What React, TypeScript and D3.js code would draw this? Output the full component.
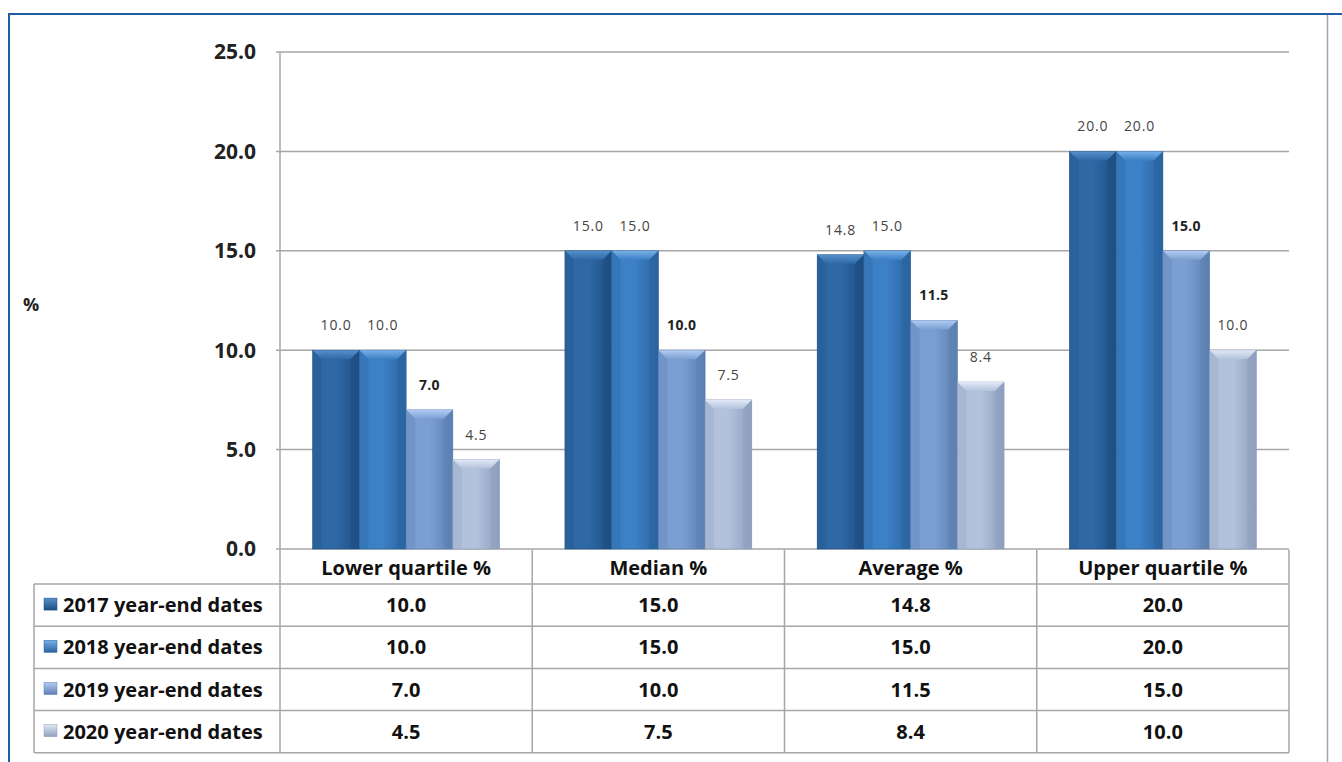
import React from 'react'
import * as d3 from 'd3'

const categories = ['Lower quartile %', 'Median %', 'Average %', 'Upper quartile %']
const seriesNames = ['2017 year-end dates', '2018 year-end dates', '2019 year-end dates', '2020 year-end dates']
const values2017 = [10.0, 15.0, 14.8, 20.0]
const values2018 = [10.0, 15.0, 15.0, 20.0]
const values2019 = [7.0, 10.0, 11.5, 15.0]
const values2020 = [4.5, 7.5, 8.4, 10.0]
const yTicks = [0, 5, 10, 15, 20, 25]

const seriesValues = [values2017, values2018, values2019, values2020]

// base / light / dark shades for the bevelled bars
const shades = [
  { base: '#2e69a6', light: '#5590cc', dark: '#1e4e82' },
  { base: '#3c80c5', light: '#78b0e8', dark: '#2a63a0' },
  { base: '#7c9fd2', light: '#b2ccf2', dark: '#5c7fb2' },
  { base: '#b3c2dc', light: '#e0e8f5', dark: '#8e9fbd' },
]

const W = 1342
const H = 762
const margin = { left: 280, right: 1289, top: 52, bottom: 549 }
const font = '"Open Sans", "Noto Sans", sans-serif'
const gridColor = '#a6a6a6'

export default function App() {
  const y = d3.scaleLinear().domain([0, 25]).range([margin.bottom, margin.top])
  const x0 = d3.scaleBand().domain(categories).range([margin.left, margin.right]).padding(0)
  const x1 = d3.scaleBand().domain(seriesNames).range([0, x0.bandwidth()]).paddingInner(0).paddingOuter(0.7)

  const rowTop = 584
  const rowH = 42.2
  const headerTop = 550
  const tableLeft = 34

  const bar = (si: number, ci: number) => {
    const v = seriesValues[si][ci]
    const bx = (x0(categories[ci]) as number) + (x1(seriesNames[si]) as number)
    const bw = x1.bandwidth()
    const by = y(v)
    const bh = y(0) - by
    const b = 9
    const s = shades[si]
    const bold = si === 2
    return (
      <g key={`${si}-${ci}`}>
        <rect x={bx} y={by} width={bw} height={bh} fill={`url(#body${si})`} stroke={s.dark} strokeWidth={0.6} />
        <polygon points={`${bx},${by} ${bx + bw},${by} ${bx + bw - b},${by + b} ${bx + b},${by + b}`} fill={`url(#top${si})`} />
        <polygon points={`${bx},${by} ${bx + b},${by + b} ${bx + b},${by + bh} ${bx},${by + bh}`} fill={s.dark} opacity={0.3} />
        <polygon points={`${bx + bw},${by} ${bx + bw - b},${by + b} ${bx + bw - b},${by + bh} ${bx + bw},${by + bh}`} fill={s.dark} opacity={0.5} />
        <text
          x={bx + bw / 2}
          y={by - 20}
          textAnchor="middle"
          fontFamily={font}
          fontSize={14}
          letterSpacing={bold ? 0.3 : 0.8}
          fontWeight={bold ? 700 : 400}
          fill={bold ? '#222' : '#444'}
        >
          {v.toFixed(1)}
        </text>
      </g>
    )
  }

  return (
    <div style={{ position: 'absolute', left: 0, top: 0 }}>
      <svg width={W} height={H} style={{ display: 'block', background: '#fff' }}>
        <defs>
          {shades.map((s, i) => (
            <React.Fragment key={i}>
              <linearGradient id={`body${i}`} x1="0" x2="1" y1="0" y2="0">
                <stop offset="0" stopColor={s.base} />
                <stop offset="0.5" stopColor={s.base} />
                <stop offset="1" stopColor={s.dark} />
              </linearGradient>
              <linearGradient id={`top${i}`} x1="0" x2="0" y1="0" y2="1">
                <stop offset="0" stopColor={s.light} />
                <stop offset="1" stopColor={s.base} />
              </linearGradient>
              <linearGradient id={`icon${i}`} x1="0" x2="0" y1="0" y2="1">
                <stop offset="0" stopColor={s.light} />
                <stop offset="1" stopColor={s.dark} />
              </linearGradient>
            </React.Fragment>
          ))}
        </defs>

        {/* frame */}
        <line x1={8} x2={W} y1={14} y2={14} stroke="#1f5ea3" strokeWidth={2} />
        <line x1={9} x2={9} y1={13} y2={H} stroke="#1f5ea3" strokeWidth={2} />
        <line x1={1327.5} x2={1327.5} y1={15} y2={H} stroke={gridColor} strokeWidth={1.5} />

        {/* grid + y axis */}
        {yTicks.map(t => (
          <g key={t}>
            <line x1={margin.left - 4} x2={margin.right} y1={y(t)} y2={y(t)} stroke={gridColor} strokeWidth={1.5} />
            <text x={256} y={y(t)} dy="0.35em" textAnchor="end" fontFamily={font} fontSize={21} fontWeight={700} fill="#222">
              {t.toFixed(1)}
            </text>
          </g>
        ))}
        <line x1={margin.left} x2={margin.left} y1={margin.top} y2={margin.bottom} stroke={gridColor} strokeWidth={1.5} />
        <text x={31} y={305} dy="0.35em" textAnchor="middle" fontFamily={font} fontSize={18} fontWeight={700} fill="#222">%</text>

        {/* bars */}
        {seriesNames.map((_, si) => categories.map((_, ci) => bar(si, ci)))}

        {/* data table */}
        <g fontFamily={font} fontWeight={700} fill="#111">
          {categories.map(c => (
            <text key={c} x={(x0(c) as number) + x0.bandwidth() / 2} y={(headerTop + rowTop) / 2 + 1} dy="0.35em" textAnchor="middle" fontSize={20}>
              {c}
            </text>
          ))}
          {seriesNames.map((name, si) => {
            const cy = rowTop + rowH * si + rowH / 2
            return (
              <g key={name}>
                <rect x={44} y={cy - 7} width={13} height={12} fill={`url(#icon${si})`} stroke={shades[si].dark} strokeWidth={0.5} />
                <text x={63} y={cy} dy="0.35em" fontSize={20}>{name}</text>
                {categories.map((c, ci) => (
                  <text key={c} x={(x0(c) as number) + x0.bandwidth() / 2} y={cy} dy="0.35em" textAnchor="middle" fontSize={20}>
                    {seriesValues[si][ci].toFixed(1)}
                  </text>
                ))}
              </g>
            )
          })}
        </g>
        <g stroke={gridColor} strokeWidth={1.5}>
          {[0, 1, 2, 3, 4].map(i => (
            <line key={`h${i}`} x1={tableLeft} x2={margin.right} y1={rowTop + rowH * i} y2={rowTop + rowH * i} />
          ))}
          <line x1={tableLeft} x2={tableLeft} y1={rowTop} y2={rowTop + rowH * 4} />
          {categories.map(c => (
            <line key={c} x1={x0(c) as number} x2={x0(c) as number} y1={headerTop} y2={rowTop + rowH * 4} />
          ))}
          <line x1={margin.right} x2={margin.right} y1={headerTop} y2={rowTop + rowH * 4} />
        </g>
      </svg>
    </div>
  )
}
